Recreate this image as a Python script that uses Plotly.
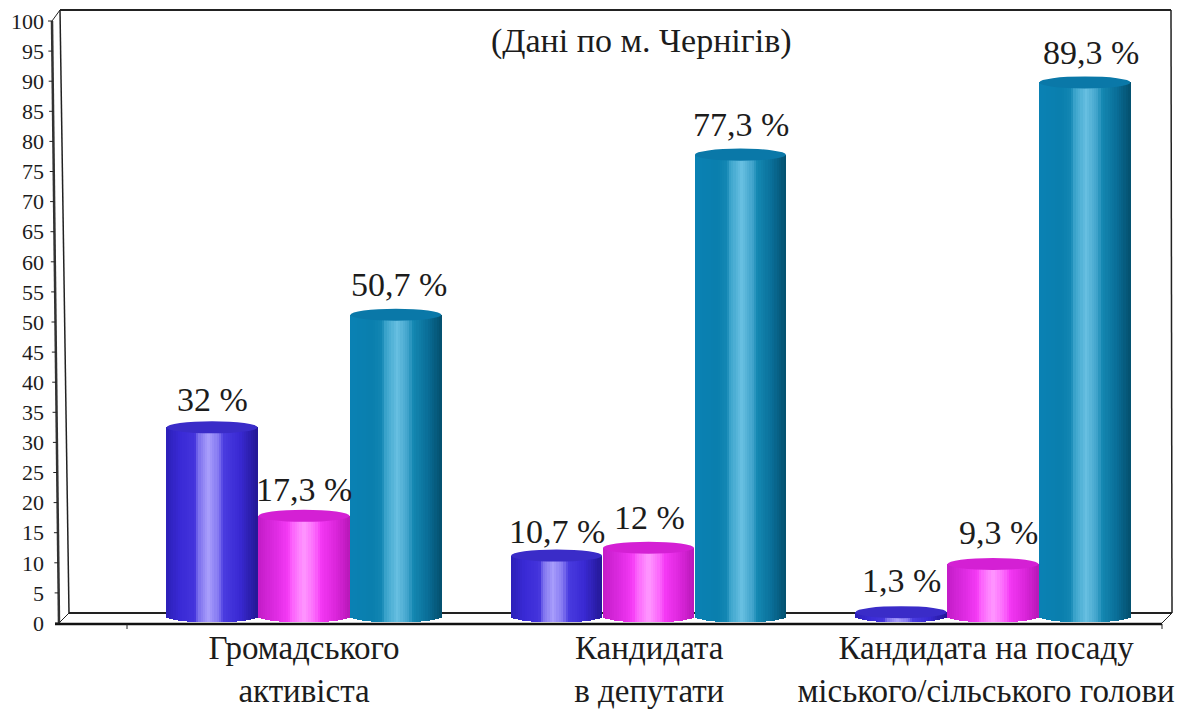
import numpy as np
import plotly.graph_objects as go

CATEGORIES = ["Громадського<br>активіста", "Кандидата<br>в депутати", "Кандидата на посаду<br>міського/сільського голови"]
CATEGORY_POS = [0.0, 1.002, 1.98]
SERIES_1 = [32.0, 10.7, 1.3]
SERIES_2 = [17.3, 12.0, 9.3]
SERIES_3 = [50.7, 77.3, 89.3]
LABELS_1 = ["32 %", "10,7 %", "1,3 %"]
LABELS_2 = ["17,3 %", "12 %", "9,3 %"]
LABELS_3 = ["50,7 %", "77,3 %", "89,3 %"]
Y_TICKS = list(range(0, 101, 5))
SUBTITLE = "(Дані по м. Чернігів)"

FONT = "Liberation Serif"
INK = "#1c1c1c"
W, H = 1184, 709
L, R, T, B = 55, 1162, 21, 623
PX_PER_CAT = 344.5
X0 = (L - 304) / PX_PER_CAT
X1 = (R - 304) / PX_PER_CAT
BAR_W = 91 / PX_PER_CAT
OFFSETS = [-BAR_W * 1.01, 0.0, BAR_W * 1.01]
CAP_LIFT = 0.5
BASE_C = 1.1
CAP_H = 1.0
N = 40

RAMPS = [
    [(-1, "#2c20b8"), (-0.7, "#3a2ad6"), (-0.38, "#4434dc"), (-0.3, "#7c70ee"), (-0.08, "#a89efc"), (0.14, "#8478f2"), (0.26, "#4a3ce0"), (0.6, "#3a2ad4"), (1, "#241896")],
    [(-1, "#c41cc8"), (-0.6, "#e02ce4"), (-0.34, "#f63cf6"), (-0.26, "#fc60fc"), (0.0, "#ff98ff"), (0.24, "#fc68fc"), (0.38, "#f438f4"), (0.7, "#dc26dc"), (1, "#b818b8")],
    [(-1, "#0a82b4"), (-0.5, "#0a7fae"), (-0.3, "#1488b4"), (-0.22, "#3ca4cc"), (0.03, "#68c0e2"), (0.28, "#3ea2ca"), (0.38, "#1488b2"), (0.7, "#0a6e98"), (1, "#04506e")],
]
CAPS = ["#3a2cc8", "#d420d4", "#0a78a8"]


def ramp_color(stops, u):
    xs = [s[0] for s in stops]
    rgb = [[int(s[1][i:i + 2], 16) for s in stops] for i in (1, 3, 5)]
    return "rgb(%d,%d,%d)" % tuple(np.interp(u, xs, c) for c in rgb)


def px(p):
    return (p - L) / (R - L)


def py(p):
    return (B - p) / (B - T)


fig = go.Figure()
shapes = []
annotations = []
series = [SERIES_1, SERIES_2, SERIES_3]
labels = [LABELS_1, LABELS_2, LABELS_3]
DX = [[0, 0, 0], [0, 1, 5], [3, 1, 6]]
DY = [[-28, -24, -32], [-26, -30, -32], [-30, -30, -30]]
for s, vals in enumerate(series):
    xs, ys, bases, cols = [], [], [], []
    for c, v in enumerate(vals):
        cx = c + OFFSETS[s]
        for k in range(N):
            u = (k + 0.5) / N * 2 - 1
            b = BASE_C - CAP_H * np.sqrt(max(0, 1 - u * u))
            xs.append(cx + u * BAR_W / 2)
            bases.append(b)
            ys.append(v + CAP_LIFT - b)
            cols.append(ramp_color(RAMPS[s], u))
        shapes.append(dict(type="circle", xref="x", yref="y", layer="above",
                           x0=cx - BAR_W / 2, x1=cx + BAR_W / 2,
                           y0=v + CAP_LIFT - CAP_H, y1=v + CAP_LIFT + CAP_H,
                           fillcolor=CAPS[s], line=dict(width=0)))
        annotations.append(dict(x=cx, y=v + CAP_LIFT, xref="x", yref="y", text=labels[s][c], showarrow=False,
                                xanchor="center", yanchor="middle",
                                xshift=DX[s][c], yshift=-DY[s][c], font=dict(family=FONT, size=34, color=INK)))
    fig.add_trace(go.Bar(x=xs, y=ys, base=bases, width=BAR_W / N * 1.12, marker=dict(color=cols, line=dict(width=0)),
                         showlegend=False, hoverinfo="skip"))


def seg(x0, y0, x1, y1, w=1.5, color="#222222"):
    return dict(type="line", xref="paper", yref="paper", layer="below", x0=px(x0), y0=py(y0), x1=px(x1), y1=py(y1),
                line=dict(color=color, width=w))


# chart box
shapes += [
    seg(60, 10, 1171, 10, 2), seg(60, 10, 69, 613, 1.5), seg(1171, 10, 1172, 613, 1.5),
    seg(69, 613, 1172, 613, 2), seg(59, 623, 69, 613, 1), seg(1162, 623, 1172, 613, 1),
    seg(52, 21, 60, 10, 1), seg(52, 21, 59, 623, 2.5, "#333333"), seg(55, 624, 1162, 624, 2.5, "#111111"),
    seg(127, 624, 127, 629, 1), seg(1162, 624, 1162, 629, 1),
]
for t in Y_TICKS:
    p = B - t * (B - T) / 100
    xa = 59 - 7 * t / 100
    shapes.append(seg(xa - 4, p, xa, p, 1))

annotations.append(dict(x=px(641), y=py(41), xref="paper", yref="paper", text=SUBTITLE, showarrow=False,
                        xanchor="center", yanchor="middle",
                        font=dict(family=FONT, size=34, color=INK)))

fig.update_layout(
    width=W, height=H, autosize=False,
    margin=dict(l=L, r=W - R, t=T, b=H - B, pad=0),
    paper_bgcolor="white", plot_bgcolor="rgba(0,0,0,0)",
    barmode="overlay", bargap=0, showlegend=False,
    shapes=shapes, annotations=annotations,
    xaxis=dict(range=[X0, X1], tickmode="array", tickvals=CATEGORY_POS, ticktext=CATEGORIES, ticks="",
               showgrid=False, zeroline=False, showline=False, tickangle=0, automargin=False,
               ticklabelstandoff=2,
               tickfont=dict(family=FONT, size=33, color=INK)),
    yaxis=dict(range=[0, 100], tickmode="array", tickvals=Y_TICKS, ticktext=[str(t) for t in Y_TICKS], ticks="",
               showgrid=False, zeroline=False, showline=False, ticklabelstandoff=10, automargin=False,
               tickfont=dict(family=FONT, size=22, color=INK)),
)
fig.write_html("out.html", config={"displayModeBar": False},
               post_script="document.body.style.margin='0';document.body.style.overflow='hidden';")
